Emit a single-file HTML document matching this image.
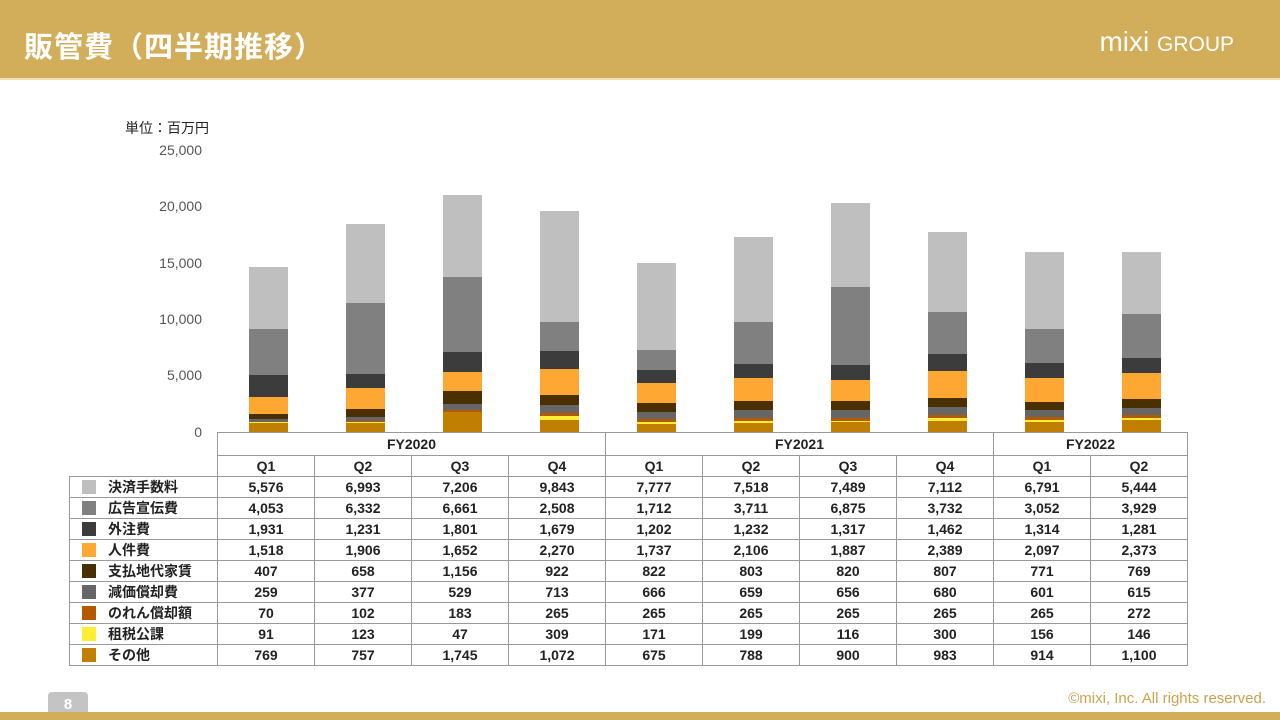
<!DOCTYPE html>
<html><head><meta charset="utf-8"><style>
*{margin:0;padding:0;box-sizing:border-box}
body{width:1280px;height:720px;position:relative;background:#fff;font-family:"Liberation Sans","Noto Sans CJK JP",sans-serif;overflow:hidden}
.hdr{position:absolute;left:0;top:0;width:1280px;height:80px;background:#D2AD5A;border-bottom:2px solid #EEDFB8}
.hdr h1{position:absolute;left:24px;top:24px;color:#fff;font-size:29px;font-weight:bold;letter-spacing:1px}
.logo{position:absolute;right:46px;top:26px;color:#fff;font-size:28px}
.logo span{font-size:21px;font-weight:normal}
.unit{position:absolute;left:125px;top:118px;font-size:14px;color:#222}
.yl{position:absolute;width:80px;text-align:right;left:122px;font-size:14px;color:#555}
.bar{position:absolute;bottom:288px;width:39px;display:flex;flex-direction:column-reverse}
.bar div{flex:none}
table{position:absolute;left:69px;top:432px;border-collapse:collapse;font-size:14px;font-weight:bold;color:#222}
td{border:1px solid #999;height:21px;text-align:center;width:97px;padding:0}
td.n{width:148px;text-align:left;padding-left:12px;white-space:nowrap}
td.n i{display:inline-block;width:14px;height:14px;vertical-align:-2px;margin-right:12px}
td.e{border:none;border-right:1px solid #999}
.pg{position:absolute;left:48px;top:692px;width:40px;height:28px;background:#C4C4C4;border-radius:4px 4px 0 0;color:#fff;font-size:15px;font-weight:bold;text-align:center;line-height:26px}
.fb{position:absolute;left:0;top:712px;width:1280px;height:8px;background:#D2AD5A}
.cp{position:absolute;right:14px;top:690px;color:#C9A34E;font-size:15px}
</style></head><body>
<div class="hdr"><h1>販管費（四半期推移）</h1><div class="logo">mixi <span>GROUP</span></div></div>
<div class="unit">単位：百万円</div>
<div class="yl" style="top:142px">25,000</div>
<div class="yl" style="top:198px">20,000</div>
<div class="yl" style="top:255px">15,000</div>
<div class="yl" style="top:311px">10,000</div>
<div class="yl" style="top:367px">5,000</div>
<div class="yl" style="top:424px">0</div>
<div id="bars"></div>
<table>
<tr style="height:23px"><td class="n e" style="border-top:none;border-left:none"></td><td colspan="4">FY2020</td><td colspan="4">FY2021</td><td colspan="2">FY2022</td></tr>
<tr><td class="n e" style="border-left:none;border-top:none"></td><td>Q1</td><td>Q2</td><td>Q3</td><td>Q4</td><td>Q1</td><td>Q2</td><td>Q3</td><td>Q4</td><td>Q1</td><td>Q2</td></tr>
<tr><td class="n"><i style="background:#BFBFBF"></i>決済手数料</td><td>5,576</td><td>6,993</td><td>7,206</td><td>9,843</td><td>7,777</td><td>7,518</td><td>7,489</td><td>7,112</td><td>6,791</td><td>5,444</td></tr>
<tr><td class="n"><i style="background:#808080"></i>広告宣伝費</td><td>4,053</td><td>6,332</td><td>6,661</td><td>2,508</td><td>1,712</td><td>3,711</td><td>6,875</td><td>3,732</td><td>3,052</td><td>3,929</td></tr>
<tr><td class="n"><i style="background:#3C3C3C"></i>外注費</td><td>1,931</td><td>1,231</td><td>1,801</td><td>1,679</td><td>1,202</td><td>1,232</td><td>1,317</td><td>1,462</td><td>1,314</td><td>1,281</td></tr>
<tr><td class="n"><i style="background:#FFA733"></i>人件費</td><td>1,518</td><td>1,906</td><td>1,652</td><td>2,270</td><td>1,737</td><td>2,106</td><td>1,887</td><td>2,389</td><td>2,097</td><td>2,373</td></tr>
<tr><td class="n"><i style="background:#4A3000"></i>支払地代家賃</td><td>407</td><td>658</td><td>1,156</td><td>922</td><td>822</td><td>803</td><td>820</td><td>807</td><td>771</td><td>769</td></tr>
<tr><td class="n"><i style="background:#666666"></i>減価償却費</td><td>259</td><td>377</td><td>529</td><td>713</td><td>666</td><td>659</td><td>656</td><td>680</td><td>601</td><td>615</td></tr>
<tr><td class="n"><i style="background:#B35A00"></i>のれん償却額</td><td>70</td><td>102</td><td>183</td><td>265</td><td>265</td><td>265</td><td>265</td><td>265</td><td>265</td><td>272</td></tr>
<tr><td class="n"><i style="background:#FFEE33"></i>租税公課</td><td>91</td><td>123</td><td>47</td><td>309</td><td>171</td><td>199</td><td>116</td><td>300</td><td>156</td><td>146</td></tr>
<tr><td class="n"><i style="background:#C07F00"></i>その他</td><td>769</td><td>757</td><td>1,745</td><td>1,072</td><td>675</td><td>788</td><td>900</td><td>983</td><td>914</td><td>1,100</td></tr>
</table>
<div class="pg">8</div><div class="fb"></div>
<div class="cp">©mixi, Inc. All rights reserved.</div>
<script>
var d=[[769,91,70,259,407,1518,1931,4053,5576],[757,123,102,377,658,1906,1231,6332,6993],[1745,47,183,529,1156,1652,1801,6661,7206],[1072,309,265,713,922,2270,1679,2508,9843],[675,171,265,666,822,1737,1202,1712,7777],[788,199,265,659,803,2106,1232,3711,7518],[900,116,265,656,820,1887,1317,6875,7489],[983,300,265,680,807,2389,1462,3732,7112],[914,156,265,601,771,2097,1314,3052,6791],[1100,146,272,615,769,2373,1281,3929,5444]];
var c=["#C07F00","#FFEE33","#B35A00","#666666","#4A3000","#FFA733","#3C3C3C","#808080","#BFBFBF"];
var h="";
for(var i=0;i<10;i++){var x=217+97*i+32;h+='<div class="bar" style="left:'+x+'px">';for(var j=0;j<9;j++)h+='<div style="height:'+(d[i][j]*0.01128)+'px;background:'+c[j]+'"></div>';h+='</div>';}
document.getElementById("bars").innerHTML=h;
</script>
</body></html>
